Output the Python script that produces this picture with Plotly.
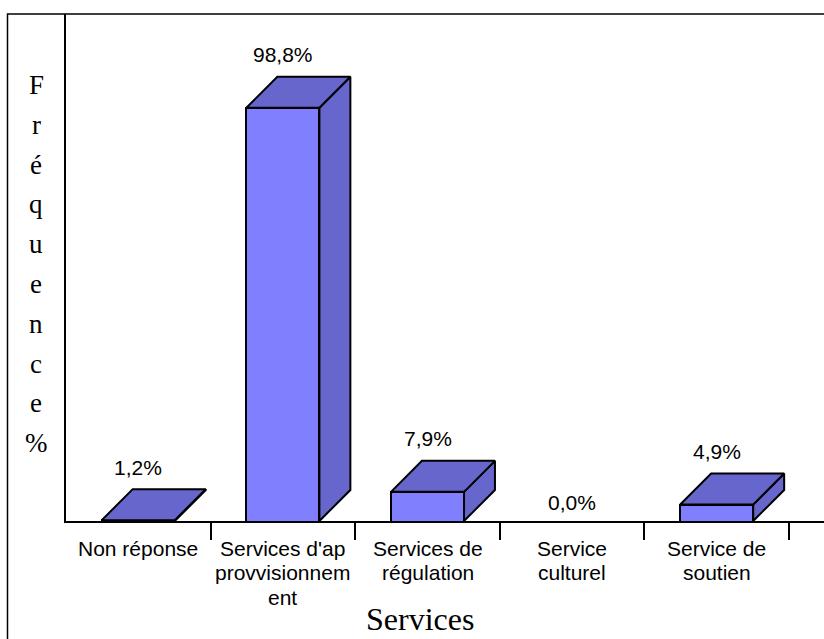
import plotly.graph_objects as go

# Data
categories = [
    "Non réponse",
    "Services d'ap<br>provvisionnem<br>ent",
    "Services de<br>régulation",
    "Service<br>culturel",
    "Service de<br>soutien",
]
values = [1.2, 98.8, 7.9, 0.0, 4.9]
value_labels = ["1,2%", "98,8%", "7,9%", "0,0%", "4,9%"]
y_title = "Fréquence%"
x_title = "Services"

# Styling / geometry
FRONT = "#8080FF"
FACE = "#6666CC"
BAR_W = 0.505          # front face width, in category units
DEPTH_X = 0.214        # 3D depth offset along x (category units)
DEPTH_Y = 7.34         # 3D depth offset along y (value units)
Y_MIN, Y_MAX = 1.0, 121.0
X_MIN, X_MAX = -0.5, 4.742

SANS = "Arial, Liberation Sans"
SERIF = "Times New Roman, Liberation Serif"

W, H = 824, 639
M_L, M_R, M_T, M_B = 66, 0, 14, 118
PW, PH = W - M_L - M_R, H - M_T - M_B

xs = list(range(len(categories)))

fig = go.Figure()

# Front faces
fig.add_trace(go.Bar(
    x=xs, y=values, width=BAR_W,
    marker=dict(color=FRONT, line=dict(color="black", width=2)),
    hoverinfo="skip", showlegend=False,
))

# Top and side faces of each 3D box
for x, v in zip(xs, values):
    if v <= 0:
        continue
    l, r = x - BAR_W / 2, x + BAR_W / 2
    top_x = [l, r, r + DEPTH_X, l + DEPTH_X, l]
    top_y = [v, v, v + DEPTH_Y, v + DEPTH_Y, v]
    side_x = [r, r, r + DEPTH_X, r + DEPTH_X, r]
    side_y = [Y_MIN, v, v + DEPTH_Y, Y_MIN + DEPTH_Y, Y_MIN]
    for px, py in ((side_x, side_y), (top_x, top_y)):
        fig.add_trace(go.Scatter(
            x=px, y=py, mode="lines", fill="toself", fillcolor=FACE,
            line=dict(color="black", width=2),
            hoverinfo="skip", showlegend=False,
        ))

annotations = []

# Value labels above each box
for x, v, lab in zip(xs, values, value_labels):
    if v > 0:
        y, shift = v + DEPTH_Y, 22
    else:
        y, shift = Y_MIN, 19
    annotations.append(dict(
        x=x, y=y, xref="x", yref="y", text=lab, showarrow=False,
        yanchor="middle", yshift=shift,
        font=dict(family=SANS, size=21, color="black"),
    ))

# Category labels under the axis, one annotation per line for tight spacing
for x, c in zip(xs, categories):
    for k, line in enumerate(c.split("<br>")):
        annotations.append(dict(
            x=x, y=0, xref="x", yref="paper", text=line, showarrow=False,
            yanchor="middle", yshift=-27 - k * 24.5,
            font=dict(family=SANS, size=21, color="black"),
        ))

# Vertical, letter-by-letter y title
for k, ch in enumerate(y_title):
    ypx = 85 + k * 39.8
    annotations.append(dict(
        x=(36 - M_L) / PW, y=(M_T + PH - ypx) / PH, xref="paper", yref="paper",
        text=ch, showarrow=False, xanchor="center", yanchor="middle",
        font=dict(family=SERIF, size=27, color="black"),
    ))

# x title
annotations.append(dict(
    x=(420 - M_L) / PW, y=(M_T + PH - 619) / PH, xref="paper", yref="paper",
    text=x_title, showarrow=False, xanchor="center", yanchor="middle",
    font=dict(family=SERIF, size=32, color="black"),
))

fig.update_layout(
    width=W, height=H,
    margin=dict(l=M_L, r=M_R, t=M_T, b=M_B, pad=0),
    paper_bgcolor="white", plot_bgcolor="white",
    showlegend=False,
    bargap=0,
    annotations=annotations,
    shapes=[dict(
        type="rect", xref="paper", yref="paper",
        x0=(7.5 - M_L) / PW, x1=1.2, y0=-0.6, y1=1.0,
        line=dict(color="black", width=1.5), layer="above",
    )],
    xaxis=dict(
        range=[X_MIN, X_MAX], showgrid=False, zeroline=False,
        showline=True, linecolor="black", linewidth=2,
        tickvals=[i + 0.5 for i in xs], ticks="outside", ticklen=17,
        tickwidth=2, tickcolor="black", showticklabels=False, fixedrange=True,
    ),
    yaxis=dict(
        range=[Y_MIN, Y_MAX], showgrid=False, zeroline=False,
        showline=True, linecolor="black", linewidth=2,
        ticks="", showticklabels=False, fixedrange=True,
    ),
)

fig.write_html("out.html", config={"displayModeBar": False})
